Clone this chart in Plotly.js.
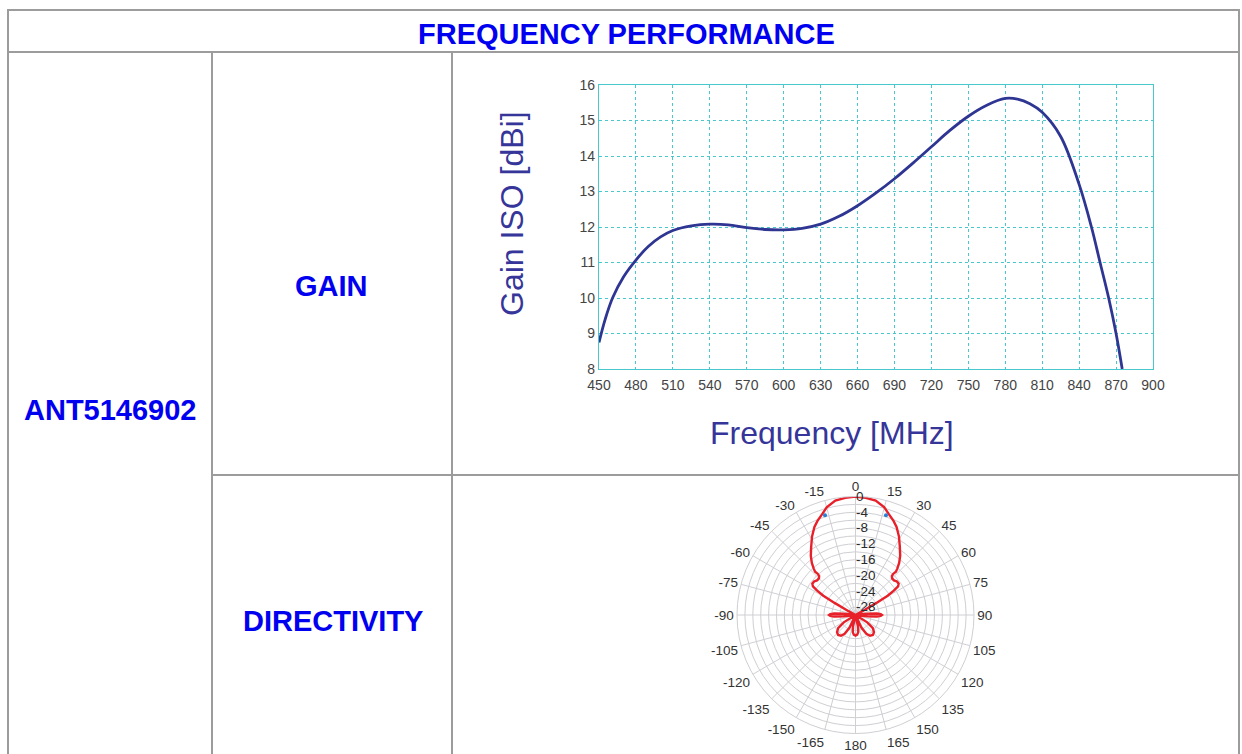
<!DOCTYPE html>
<html>
<head>
<meta charset="utf-8">
<script src="https://cdn.plot.ly/plotly-3.0.1.min.js"></script>
<style>
  html, body { margin: 0; padding: 0; background: #ffffff; }
  #chart { width: 1242px; height: 754px; }
</style>
</head>
<body>
<div id="chart"></div>
<script>
// ---------- data ----------
const freqMHz = [450, 455, 461, 470, 480, 490, 500, 510, 525, 540, 555, 570, 585, 600, 615, 630, 645, 660, 675, 690, 705, 720, 735, 750, 765, 780, 790, 800, 810, 825, 840, 850, 857, 864, 870, 875];
const gainDbi = [8.75, 9.4, 10.0, 10.6, 11.07, 11.45, 11.72, 11.9, 12.03, 12.08, 12.06, 11.98, 11.93, 11.92, 11.96, 12.08, 12.3, 12.6, 12.96, 13.36, 13.8, 14.26, 14.72, 15.12, 15.43, 15.62, 15.6, 15.47, 15.23, 14.55, 13.2, 12.0, 11.0, 10.0, 9.0, 8.0];
const freqTicks = [450, 480, 510, 540, 570, 600, 630, 660, 690, 720, 750, 780, 810, 840, 870, 900];

const patternAngle = [0, 5, 10, 15, 18, 22, 25, 29, 33, 37, 40, 42, 43, 42.5, 43, 45, 48, 51, 54, 56, 57.5, 59, 60, 61, 62,
  82, 84, 86, 88, 90, 92, 94, 96, 98,
  118, 122, 127, 133, 139, 145, 150, 155, 159,
  165, 168, 171, 175, 180, 185, 189, 192, 195,
  201, 205, 210, 215, 221, 227, 233, 238, 242,
  262, 264, 266, 268, 270, 272, 274, 276, 278,
  298, 299, 300, 301, 302.5, 304, 306, 309, 312, 315, 317, 317.5, 317, 318, 320, 323, 327, 331, 335, 338, 342, 345, 350, 355, 360];
const patternDb = [0, -0.2, -0.6, -1.8, -3.0, -4.3, -5.4, -7.3, -9.4, -11.2, -12.8, -14.2, -15.0, -15.9, -16.5, -16.9, -16.9, -16.5, -16.5, -17.0, -18.5, -20.5, -24, -28, -30,
  -30, -27, -24.6, -23.6, -23.3, -23.6, -24.6, -27, -30,
  -30, -26.5, -24.5, -23.6, -23.3, -23.6, -24.5, -26.5, -30,
  -30, -27, -25.6, -25.0, -24.8, -25.0, -25.6, -27, -30,
  -30, -26.5, -24.5, -23.6, -23.3, -23.6, -24.5, -26.5, -30,
  -30, -27, -24.6, -23.6, -23.3, -23.6, -24.6, -27, -30,
  -30, -28, -24, -20.5, -18.5, -17.0, -16.5, -16.5, -16.9, -16.9, -16.5, -15.9, -15.0, -14.2, -12.8, -11.2, -9.4, -7.3, -5.4, -4.3, -3.0, -1.8, -0.6, -0.2, 0];
const beamAngle = [17, 343];
const beamDb = [-3.6, -3.6];

const angleTickVals = [0, 15, 30, 45, 60, 75, 90, 105, 120, 135, 150, 165, 180, 195, 210, 225, 240, 255, 270, 285, 300, 315, 330, 345];
const angleTickText = ['0', '15', '30', '45', '60', '75', '90', '105', '120', '135', '150', '165', '180', '-165', '-150', '-135', '-120', '-105', '-90', '-75', '-60', '-45', '-30', '-15'];
const radialTickVals = [-30, -28, -26, -24, -22, -20, -18, -16, -14, -12, -10, -8, -6, -4, -2, 0];
const radialTickText = ['', '-28', '', '-24', '', '-20', '', '-16', '', '-12', '', '-8', '', '-4', '', '0'];

// ---------- page geometry (pixels) ----------
const W = 1242, H = 754;
const px = x => x / W;
const py = y => 1 - y / H;

const lineCol = '#9c9c9c';
function hline(x0, x1, y) {
  return {type: 'line', xref: 'paper', yref: 'paper', x0: px(x0), x1: px(x1), y0: py(y), y1: py(y), line: {color: lineCol, width: 2}};
}
function vline(x, y0, y1) {
  return {type: 'line', xref: 'paper', yref: 'paper', x0: px(x), x1: px(x), y0: py(y0), y1: py(y1), line: {color: lineCol, width: 2}};
}
const shapes = [
  hline(7, 1240, 10), hline(7, 1240, 52), hline(212, 1240, 475),
  vline(8, 10, 754), vline(212, 52, 754), vline(452, 52, 754), vline(1239, 10, 754)
];

const labelFont = {family: 'Liberation Sans, Arial, sans-serif', size: 29, color: '#0000f0', weight: 700};
function label(text, x, y) {
  return {text: text, x: px(x), y: py(y), xref: 'paper', yref: 'paper', showarrow: false, xanchor: 'center', yanchor: 'middle', font: labelFont};
}
const titleBlue = '#35359a';
const titleFont = {family: 'Liberation Sans, Arial, sans-serif', size: 32, color: titleBlue};
const annotations = [
  label('FREQUENCY PERFORMANCE', 626, 34),
  label('GAIN', 331, 286),
  label('ANT5146902', 110, 410),
  label('DIRECTIVITY', 333, 621),
  {text: 'Frequency [MHz]', x: px(832), y: py(433), xref: 'paper', yref: 'paper', showarrow: false, xanchor: 'center', yanchor: 'middle', font: titleFont},
  {text: 'Gain ISO [dBi]', x: px(512), y: py(214), xref: 'paper', yref: 'paper', showarrow: false, xanchor: 'center', yanchor: 'middle', textangle: -90, font: titleFont}
];

const gridCyan = '#46c8cc';

const traces = [
  {
    type: 'scatter', mode: 'lines', x: freqMHz, y: gainDbi,
    line: {color: '#2e3592', width: 2.8, shape: 'spline', smoothing: 1.0},
    xaxis: 'x', yaxis: 'y', cliponaxis: true
  },
  {
    type: 'scatterpolar', mode: 'lines', theta: patternAngle, r: patternDb,
    line: {color: '#e8202a', width: 2.4}, subplot: 'polar'
  },
  {
    type: 'scatterpolar', mode: 'markers', theta: beamAngle, r: beamDb,
    marker: {color: '#2a7fd4', size: 4}, subplot: 'polar'
  }
];

const tickFont = {family: 'Liberation Sans, Arial, sans-serif', size: 14, color: '#444444'};
const layout = {
  width: W, height: H,
  margin: {l: 0, r: 0, t: 0, b: 0},
  paper_bgcolor: '#ffffff', plot_bgcolor: '#ffffff',
  showlegend: false,
  shapes: shapes,
  annotations: annotations,
  xaxis: {
    domain: [px(599), px(1153)], range: [450, 900],
    tickmode: 'array', tickvals: freqTicks,
    showgrid: true, gridcolor: gridCyan, griddash: 'dot', gridwidth: 1,
    showline: true, linecolor: gridCyan, linewidth: 1.2, mirror: true,
    zeroline: false, ticks: '', ticklabelstandoff: 3,
    tickfont: tickFont, automargin: false
  },
  yaxis: {
    domain: [py(369), py(85)], range: [8, 16], dtick: 1, tick0: 8,
    showgrid: true, gridcolor: gridCyan, griddash: 'dot', gridwidth: 1,
    showline: true, linecolor: gridCyan, linewidth: 1.2, mirror: true,
    zeroline: false, ticks: '',
    tickfont: tickFont, automargin: false
  },
  polar: {
    domain: {x: [px(737), px(974)], y: [py(733.5), py(496.5)]},
    bgcolor: '#ffffff',
    angularaxis: {
      rotation: 90, direction: 'clockwise',
      tickmode: 'array', tickvals: angleTickVals, ticktext: angleTickText,
      showgrid: true, gridcolor: '#cfcfd4', gridwidth: 1,
      showline: true, linecolor: '#cfcfd4', linewidth: 1,
      ticks: '',
      tickfont: {family: 'Liberation Sans, Arial, sans-serif', size: 13.5, color: '#333333'}
    },
    radialaxis: {
      range: [-30, 0], angle: 90, tickangle: 90,
      tickmode: 'array', tickvals: radialTickVals, ticktext: radialTickText,
      showgrid: true, gridcolor: '#cfcfd4', gridwidth: 1,
      showline: false, ticks: '',
      tickfont: {family: 'Liberation Sans, Arial, sans-serif', size: 13.5, color: '#2a2a2a'}
    }
  }
};

Plotly.newPlot('chart', traces, layout, {displayModeBar: false, staticPlot: true});
</script>
</body>
</html>
